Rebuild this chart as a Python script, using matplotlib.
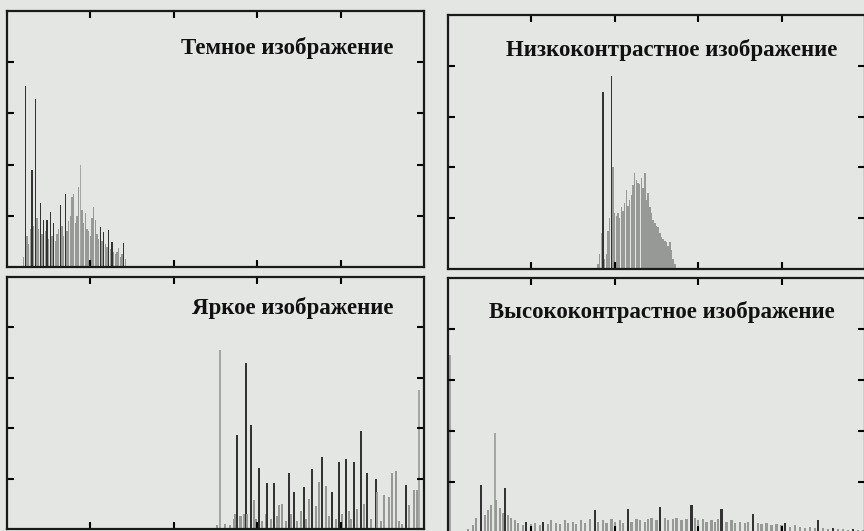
import matplotlib.pyplot as plt

# gray levels and pixel counts for the four histograms
dark_levels = list(range(10, 72))
dark_counts = [40, 707, 120, 90, 150, 379, 160, 656, 190, 150,
               250, 130, 184, 140, 184, 110, 215, 120, 172, 100,
               130, 150, 242, 160, 120, 285, 140, 180, 200, 274,
               285, 170, 200, 313, 398, 223, 170, 211, 150, 140,
               120, 190, 234, 184, 130, 110, 156, 100, 137, 90,
               80, 145, 70, 98, 60, 50, 60, 74, 40, 50,
               94, 30]

low_levels = list(range(90, 137))
low_counts = [20, 60, 140, 698, 40, 60, 150, 200, 761, 403,
              220, 210, 220, 200, 245, 230, 260, 311, 250, 270,
              290, 330, 378, 350, 339, 333, 360, 320, 378, 270,
              300, 245, 220, 193, 180, 170, 167, 140, 127, 120,
              110, 108, 90, 108, 75, 40, 20]

bright_levels = [126, 128, 131, 134, 136, 137, 138, 140, 142, 143,
                 144, 146, 148, 149, 151, 153, 155, 156, 158, 160,
                 162, 163, 165, 167, 169, 170, 172, 174, 176, 178,
                 179, 181, 183, 185, 187, 189, 191, 193, 195, 197,
                 199, 201, 203, 205, 206, 208, 210, 212, 214, 216,
                 218, 221, 222, 224, 226, 229, 231, 233, 235, 237,
                 239, 241, 244, 246, 247]
bright_counts = [15, 710, 20, 15, 40, 60, 373, 50, 60, 658,
                 60, 413, 115, 40, 242, 30, 60, 182, 40, 182,
                 50, 95, 101, 30, 224, 60, 148, 30, 70, 168,
                 40, 119, 238, 90, 188, 286, 171, 50, 148, 40,
                 267, 60, 278, 70, 40, 267, 80, 390, 100, 222,
                 40, 198, 148, 30, 135, 125, 222, 230, 30, 20,
                 175, 95, 155, 155, 550]

high_levels = [1, 12, 15, 17, 20, 22, 24, 26, 28, 29,
               31, 33, 34, 36, 38, 40, 42, 45, 47, 50,
               52, 55, 57, 60, 62, 65, 67, 70, 72, 75,
               77, 80, 82, 85, 88, 90, 93, 95, 98, 100,
               103, 105, 108, 110, 113, 115, 118, 120, 122, 125,
               127, 130, 132, 135, 137, 140, 143, 146, 148, 150,
               153, 155, 158, 160, 162, 164, 167, 170, 172, 175,
               178, 180, 183, 186, 188, 191, 194, 197, 200, 202,
               205, 208, 211, 214, 217, 220, 222, 225, 228, 231,
               234, 237, 240, 243, 246, 249]
high_counts = [700, 15, 30, 60, 188, 70, 90, 110, 391, 130,
               100, 80, 176, 70, 60, 50, 40, 30, 45, 35,
               40, 30, 45, 35, 50, 40, 35, 50, 40, 45,
               35, 50, 40, 55, 90, 45, 50, 40, 55, 45,
               50, 40, 95, 45, 55, 50, 45, 55, 60, 50,
               103, 60, 50, 55, 60, 50, 55, 110, 60, 50,
               55, 45, 50, 45, 55, 95, 45, 50, 40, 45,
               40, 45, 75, 40, 35, 40, 30, 35, 30, 40,
               25, 30, 25, 20, 25, 20, 50, 20, 15, 20,
               15, 15, 10, 15, 10, 10]

titles = ["Темное изображение", "Низкоконтрастное изображение",
          "Яркое изображение", "Высококонтрастное изображение"]

# faint scanned-looking spikes drawn in light gray
light = {"dark": {44}, "low": {92}, "bright": {128, 247}, "high": {1, 28}}

bg = "#e3e6e3"
fig = plt.figure(figsize=(8.64, 5.31), dpi=100, facecolor=bg)

boxes = [[0.0081, 0.4972, 0.4826, 0.4821],
         [0.5185, 0.4934, 0.4826, 0.4783],
         [0.0081, 0.0038, 0.4826, 0.4746],
         [0.5185, -0.0038, 0.4826, 0.4802]]
title_pos = [(0.926, 0.855), (0.933, 0.862), (0.926, 0.877), (0.928, 0.867)]
widths = [0.85, 0.85, 1.2, 1.3]
series = [("dark", dark_levels, dark_counts),
          ("low", low_levels, low_counts),
          ("bright", bright_levels, bright_counts),
          ("high", high_levels, high_counts)]


def bar_colors(key, levels, counts):
    cols = []
    for i, (lv, c) in enumerate(zip(levels, counts)):
        left = counts[i - 1] if i > 0 else 0
        right = counts[i + 1] if i < len(counts) - 1 else 0
        if lv in light[key]:
            cols.append("#a5a7a5")
        elif c > 1.25 * max(left, right):
            cols.append("#333333")
        else:
            cols.append("#979997")
    return cols


for box, (key, lv, ct), title, (tx, ty), w in zip(boxes, series, titles, title_pos, widths):
    ax = fig.add_axes(box)
    ax.set_facecolor(bg)
    ax.bar(lv, ct, width=w, color=bar_colors(key, lv, ct), linewidth=0)
    ax.set_xlim(0, 250)
    ax.set_ylim(0, 1000)
    ax.set_xticks([50, 100, 150, 200])
    ax.set_yticks([200, 400, 600, 800])
    ax.tick_params(direction="in", length=5, width=1.5, top=True, right=True,
                   labelbottom=False, labelleft=False)
    for sp in ax.spines.values():
        sp.set_linewidth(1.6)
        sp.set_color("#1a1a1a")
    ax.text(tx, ty, title, transform=ax.transAxes, ha="right", va="center",
            fontsize=16.5, fontweight="bold", family="Liberation Serif",
            color="#111111")

plt.savefig("out.png", dpi=100, facecolor=bg)
plt.close()
